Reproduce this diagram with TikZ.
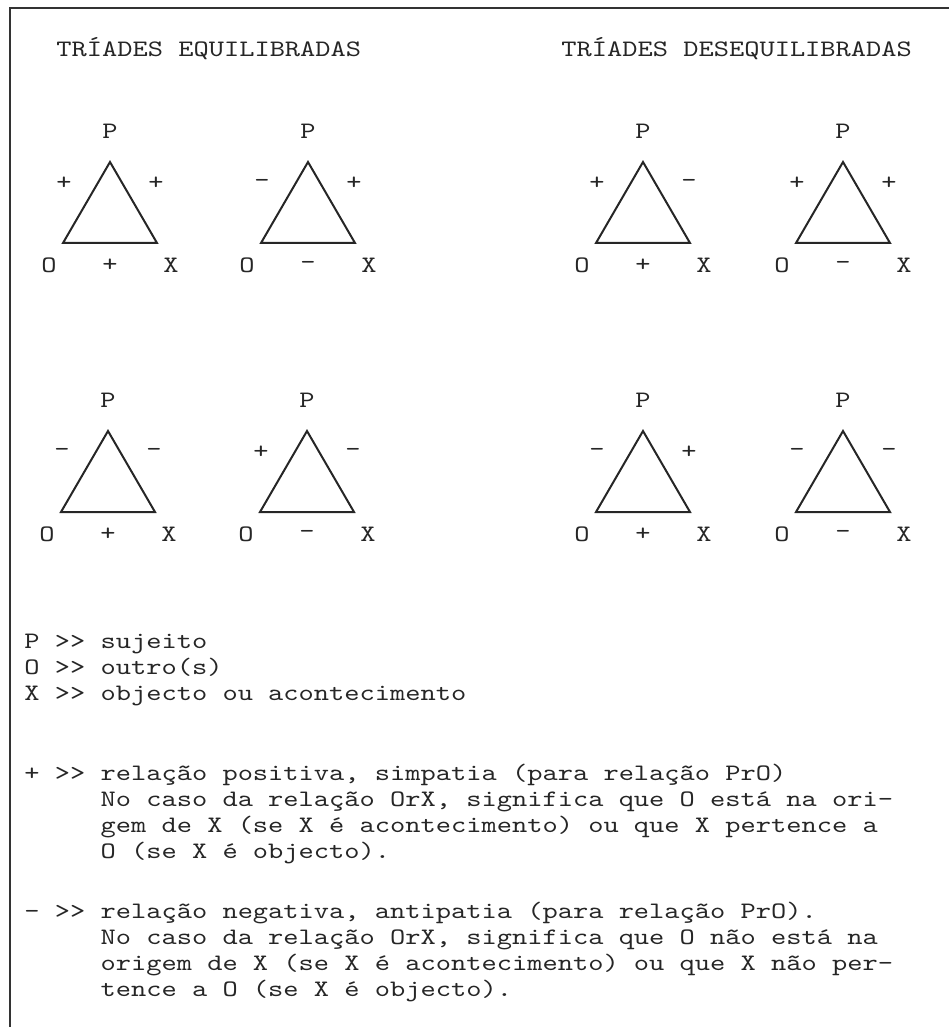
\documentclass[tikz,border=0pt]{standalone}
\usepackage{fontspec}
\newfontfamily\typewriter{lmmono10-regular.otf}[FakeStretch=1.23]
\usepackage{tikz}
\usetikzlibrary{positioning}

\begin{document}
\begin{tikzpicture}[
    x=0.5pt, y=-0.5pt,
    txt/.style={font=\fontsize{11.8pt}{12.6pt}\typewriter, text=black!85, inner sep=0pt},
    title/.style={txt, anchor=base west},
    vertex/.style={txt},
    sign/.style={txt},
    side/.style={draw=black!85, line width=1pt},
    legend/.style={txt, anchor=base west},
    frame/.style={draw=black!80, line width=1.3pt}
]
\useasboundingbox (0,0) rectangle (949,1027);
\draw[frame] (10,1027) -- (10,8) -- (949,8);

% titulos
\node[title] (ttlEq) at (56,57) {TRÍADES EQUILIBRADAS};
\node[title] (ttlDes) at (561,57) {TRÍADES DESEQUILIBRADAS};

% triades: nome / centro / vertice / sinal PrO / sinal PrX / sinal OrX
\foreach \n/\cx/\ay/\sl/\sr/\sb in {a/110/162/+/+/+, b/308/162/-/+/-, c/643/162/+/-/+, d/843/162/+/+/-,
                                    e/108/431/-/-/+, f/307/431/+/-/-, g/643/431/-/+/+, h/843/431/-/-/-}{
  \coordinate (top\n) at (\cx,\ay);
  \coordinate (bl\n) at (\cx-47,\ay+81);
  \coordinate (br\n) at (\cx+47,\ay+81);
  \draw[side] (top\n) -- (bl\n) -- (br\n) -- cycle;
  \node[vertex] (P\n) at (\cx,\ay-31) {P};
  \node[vertex] (O\n) at (\cx-61,\ay+103) {O};
  \node[vertex] (X\n) at (\cx+61,\ay+103) {X};
  \node[sign] (pro\n) at (\cx-46,\ay+21) {\sl};
  \node[sign] (prx\n) at (\cx+46,\ay+21) {\sr};
  \node[sign] (orx\n) at (\cx,\ay+103) {\sb};
}

% legenda
\foreach \entry [count=\i from 0] in {{P >{}> sujeito}, {O >{}> outro(s)}, {X >{}> objecto ou acontecimento}}
  \node[legend] (legPOX\i) at (24,648+26*\i) {\entry};
\foreach \entry [count=\i from 0] in {{+ >{}> relação positiva, simpatia (para relação PrO)},
    {\hphantom{+ >{}> }No caso da relação OrX, significa que O está na ori-},
    {\hphantom{+ >{}> }gem de X (se X é acontecimento) ou que X pertence a},
    {\hphantom{+ >{}> }O (se X é objecto).}}
  \node[legend] (legPos\i) at (24,780+26*\i) {\entry};
\foreach \entry [count=\i from 0] in {{- >{}> relação negativa, antipatia (para relação PrO).},
    {\hphantom{- >{}> }No caso da relação OrX, significa que O não está na},
    {\hphantom{- >{}> }origem de X (se X é acontecimento) ou que X não per-},
    {\hphantom{- >{}> }tence a O (se X é objecto).}}
  \node[legend] (legNeg\i) at (24,918+26*\i) {\entry};
\end{tikzpicture}
\end{document}
